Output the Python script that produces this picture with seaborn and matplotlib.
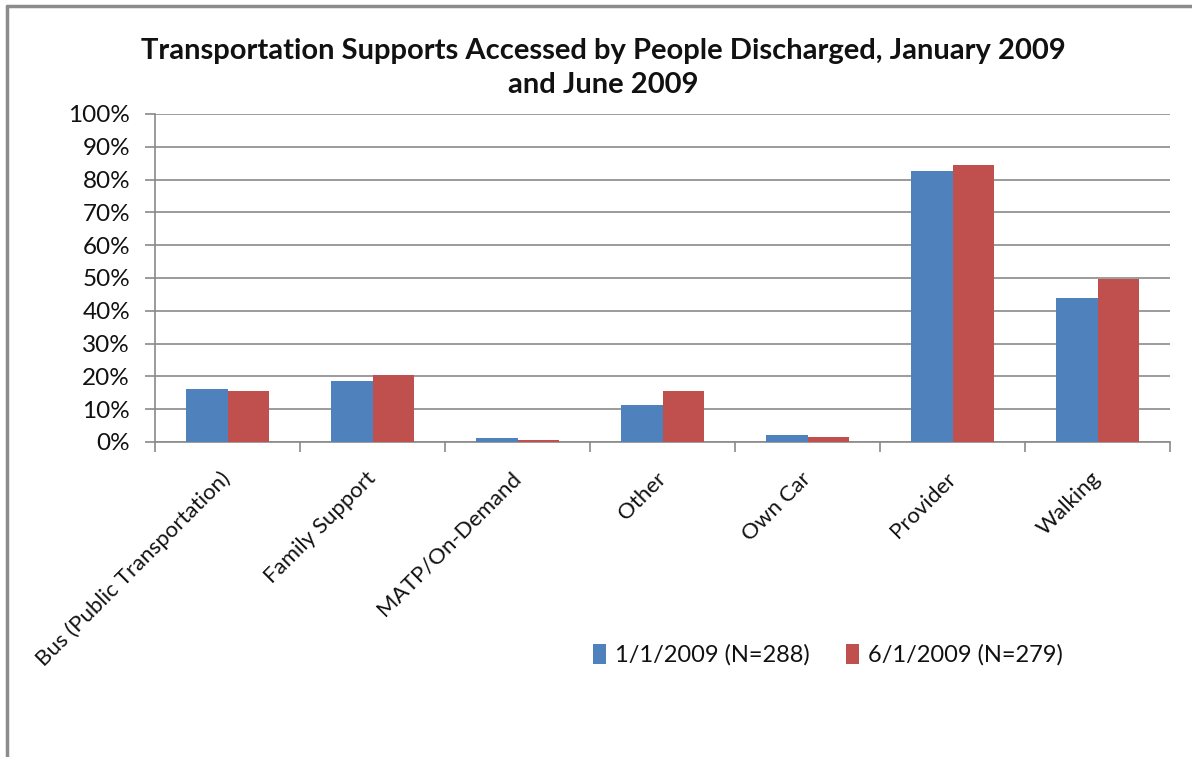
import matplotlib
matplotlib.use("Agg")
import matplotlib.pyplot as plt
import seaborn as sns
import pandas as pd
import numpy as np
from matplotlib.lines import Line2D
from matplotlib.patches import Patch

categories = ["Bus (Public Transportation)", "Family Support", "MATP/On-Demand",
              "Other", "Own Car", "Provider", "Walking"]
series_names = ["1/1/2009 (N=288)", "6/1/2009 (N=279)"]
jan_values = [16.3, 18.6, 1.1, 11.4, 2.0, 82.5, 43.8]
jun_values = [15.5, 20.5, 0.7, 15.7, 1.5, 84.5, 49.8]
yticks = [0, 10, 20, 30, 40, 50, 60, 70, 80, 90, 100]
ytick_labels = [f"{v}%" for v in yticks]
title = "Transportation Supports Accessed by People Discharged, January 2009\nand June 2009"

colors = ["#4F81BD", "#C0504D"]

df = pd.DataFrame({
    "category": categories * 2,
    "value": jan_values + jun_values,
    "series": [series_names[0]] * len(categories) + [series_names[1]] * len(categories),
})

sns.set_theme(style="white")
plt.rcParams["font.family"] = ["Lato", "DejaVu Sans"]

W, H = 1192, 757
fig = plt.figure(figsize=(W / 100, H / 100), dpi=100)
ax = fig.add_axes([155 / W, 1 - 442 / H, (1170 - 155) / W, (442 - 114) / H])

sns.barplot(data=df, x="category", y="value", hue="series", order=categories,
            hue_order=series_names, palette=colors, width=0.57, saturation=1,
            edgecolor="none", linewidth=0, legend=False, ax=ax, zorder=3)

ax.set_xlim(-0.5, len(categories) - 0.5)
ax.set_ylim(0, 100)
ax.set_yticks(yticks)
ax.set_yticklabels(ytick_labels, fontsize=17.5, color="#111111")
ax.yaxis.grid(True, color="#8a8a8a", linewidth=1.2, zorder=0)
ax.set_axisbelow(True)
ax.set_xlabel("")
ax.set_ylabel("")

for s in ["top", "right"]:
    ax.spines[s].set_visible(False)
for s in ["left", "bottom"]:
    ax.spines[s].set_color("#8a8a8a")
    ax.spines[s].set_linewidth(1.2)

ax.tick_params(axis="y", which="major", length=7, width=1.2, color="#8a8a8a",
               direction="out", left=True, pad=11)
# x: no major tick marks, minor ticks at category boundaries
ax.set_xticks(range(len(categories)))
ax.set_xticklabels(categories, rotation=45, ha="right", va="center",
                   rotation_mode="anchor", fontsize=16, color="#111111")
ax.tick_params(axis="x", which="major", length=0, pad=24)
ax.set_xticks(np.arange(-0.5, len(categories) + 0.5, 1), minor=True)
ax.tick_params(axis="x", which="minor", length=7, width=1.2, color="#8a8a8a",
               direction="out", bottom=True)

fig.text(603 / W, 1 - 68 / H, title, ha="center", va="center", fontsize=21,
         fontweight="bold", color="#111111", linespacing=1.42)

handles = [Patch(facecolor=c, edgecolor="none") for c in colors]
fig.legend(handles, series_names, loc="center", bbox_to_anchor=(828 / W, 1 - 655 / H),
           ncol=2, frameon=False, fontsize=17, handlelength=0.55, handleheight=0.9,
           handletextpad=0.4, columnspacing=1.5, labelcolor="#111111")

# outer chart frame (top and left edges visible)
fig.add_artist(Line2D([7 / W, 1.0], [1 - 6 / H, 1 - 6 / H], transform=fig.transFigure,
                      color="#8c8c8c", linewidth=2.5))
fig.add_artist(Line2D([7 / W, 7 / W], [0, 1 - 6 / H], transform=fig.transFigure,
                      color="#8c8c8c", linewidth=2.5))

fig.savefig("out.png", dpi=100, facecolor="white")
